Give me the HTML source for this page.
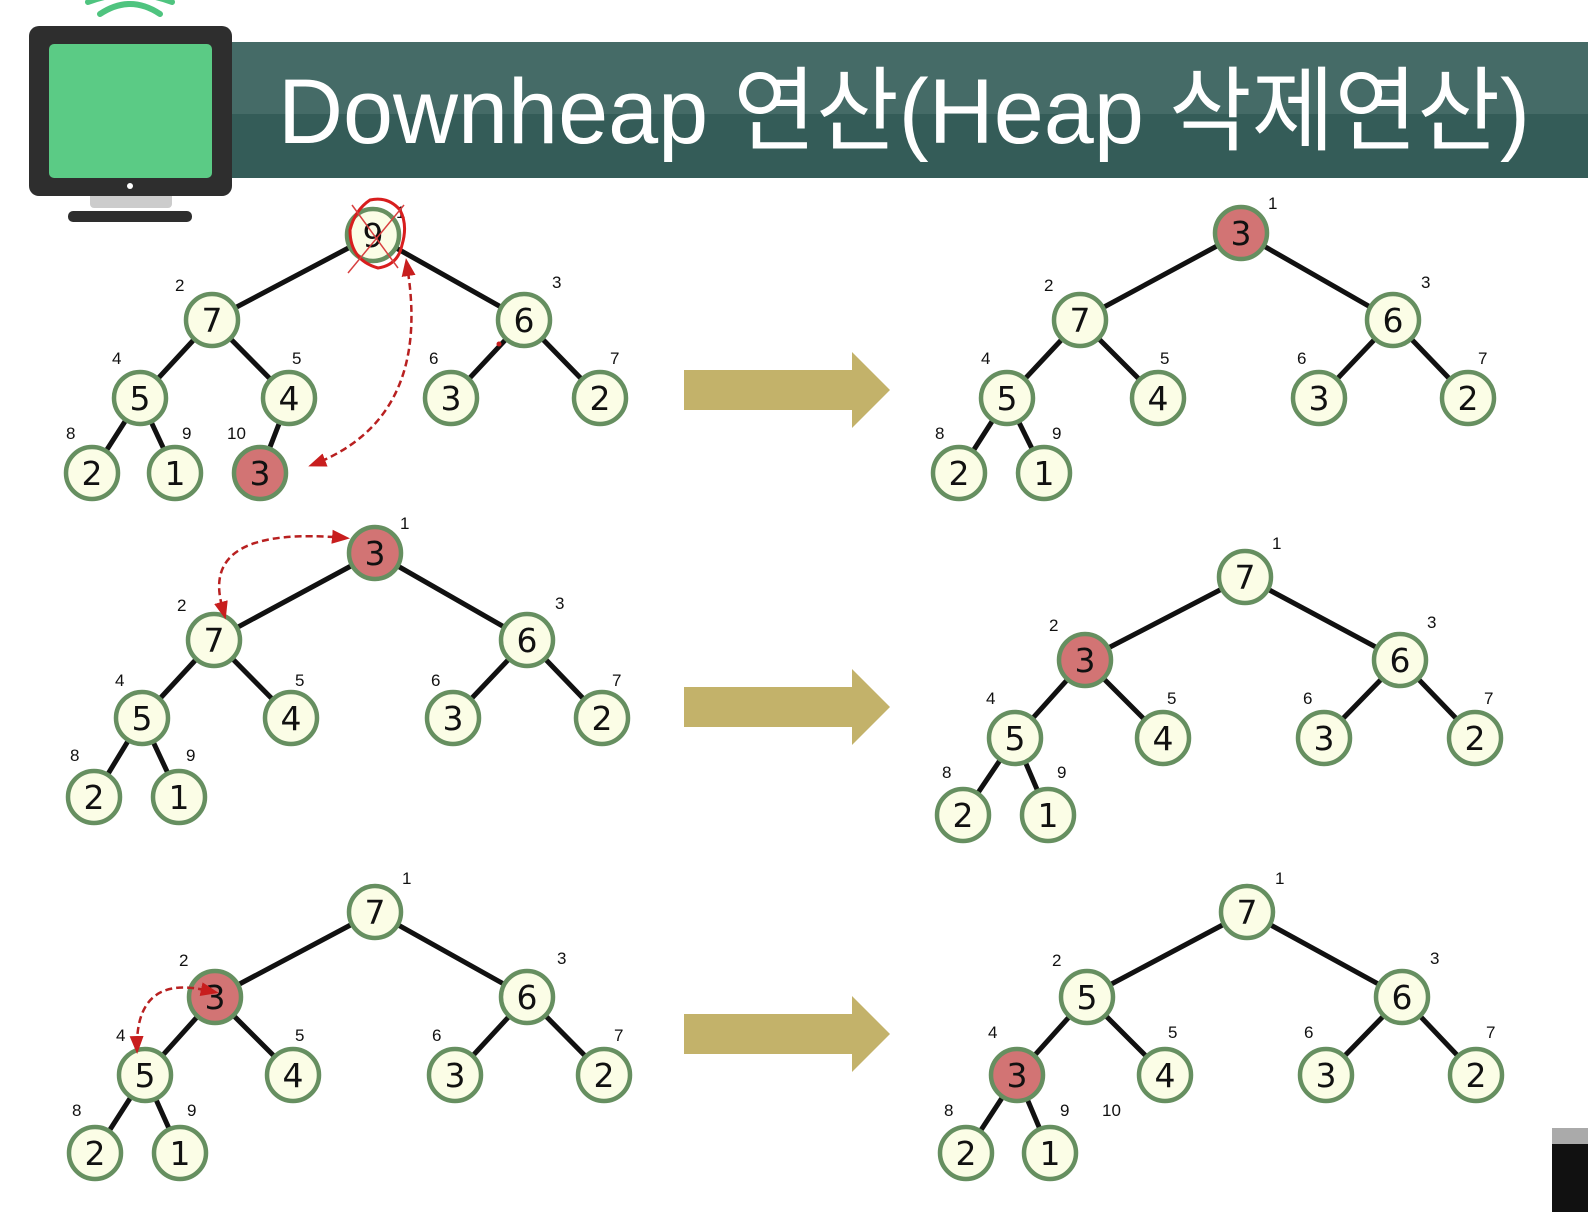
<!DOCTYPE html>
<html><head><meta charset="utf-8"><style>
html,body{margin:0;padding:0;background:#fff;}
svg{display:block}
.e{stroke:#111;stroke-width:5;}
.n circle{fill:#fbfde6;stroke:#668f60;stroke-width:4.5;}
.n circle.r{fill:#d27474;}
.n text{font-family:"DejaVu Sans","Liberation Sans",sans-serif;font-size:33px;text-anchor:middle;fill:#111;}
.l{font-family:"Liberation Sans",sans-serif;font-size:17px;fill:#111;}
.ar{fill:#c3b26a;}
.d{fill:none;stroke:#b82020;stroke-width:2.5;stroke-dasharray:7 4;}
</style></head><body>
<svg width="1588" height="1212" viewBox="0 0 1588 1212" xmlns="http://www.w3.org/2000/svg">
<defs>
<marker id="ah" markerWidth="10" markerHeight="10" refX="8" refY="5" orient="auto" markerUnits="userSpaceOnUse" viewBox="0 0 10 10"><path d="M0,0 L10,5 L0,10 z" fill="#c81e1e"/></marker>
<marker id="ahb" markerWidth="18" markerHeight="18" refX="14" refY="9" orient="auto" markerUnits="userSpaceOnUse" viewBox="0 0 18 18"><path d="M0,2 L18,9 L0,16 z" fill="#c81e1e"/></marker>
<marker id="ahs" markerWidth="18" markerHeight="18" refX="4" refY="9" orient="auto-start-reverse" markerUnits="userSpaceOnUse" viewBox="0 0 18 18"><path d="M0,2 L18,9 L0,16 z" fill="#c81e1e"/></marker>
</defs>
<!-- header -->
<rect x="230" y="42" width="1358" height="136" fill="#345c58"/>
<rect x="230" y="42" width="1358" height="72" fill="#456b67"/>
<text x="278" y="143" font-family="'Liberation Sans','Noto Sans CJK KR',sans-serif" font-size="92" fill="#fff" textLength="1252" lengthAdjust="spacingAndGlyphs">Downheap 연산(Heap 삭제연산)</text>
<!-- monitor -->
<path d="M100,14 Q130,-6 160,14" fill="none" stroke="#4fc47f" stroke-width="6" stroke-linecap="round"/>
<path d="M88,2 Q130,-14 172,2" fill="none" stroke="#4fc47f" stroke-width="6" stroke-linecap="round"/>
<rect x="90" y="190" width="82" height="18" fill="#ccc" rx="4"/>
<rect x="29" y="26" width="203" height="170" rx="10" fill="#2e2e2e"/>
<rect x="49" y="44" width="163" height="134" rx="5" fill="#5bcb85"/>
<circle cx="130" cy="186" r="3" fill="#fff"/>
<rect x="68" y="211" width="124" height="11" rx="5" fill="#2e2e2e"/>
<rect x="1552" y="1128" width="36" height="84" fill="#111"/>
<rect x="1552" y="1128" width="36" height="16" fill="#aaa"/>

<!-- big arrows -->
<path class="ar" d="M684,370 H852 V352 L890,390 L852,428 V410 H684 Z"/>
<path class="ar" d="M684,687 H852 V669 L890,707 L852,745 V727 H684 Z"/>
<path class="ar" d="M684,1014 H852 V996 L890,1034 L852,1072 V1054 H684 Z"/>

<!-- Tree 1 -->
<g class="e">
<line x1="373" y1="235" x2="212" y2="320"/><line x1="373" y1="235" x2="524" y2="320"/>
<line x1="212" y1="320" x2="140" y2="398"/><line x1="212" y1="320" x2="289" y2="398"/>
<line x1="524" y1="320" x2="451" y2="398"/><line x1="524" y1="320" x2="600" y2="398"/>
<line x1="140" y1="398" x2="92" y2="473"/><line x1="140" y1="398" x2="175" y2="473"/>
<line x1="289" y1="398" x2="260" y2="473"/>
</g>
<g class="n">
<circle cx="373" cy="235" r="26"/><text x="373" y="247">9</text>
<circle cx="212" cy="320" r="26"/><text x="212" y="332">7</text>
<circle cx="524" cy="320" r="26"/><text x="524" y="332">6</text>
<circle cx="140" cy="398" r="26"/><text x="140" y="410">5</text>
<circle cx="289" cy="398" r="26"/><text x="289" y="410">4</text>
<circle cx="451" cy="398" r="26"/><text x="451" y="410">3</text>
<circle cx="600" cy="398" r="26"/><text x="600" y="410">2</text>
<circle cx="92" cy="473" r="26"/><text x="92" y="485">2</text>
<circle cx="175" cy="473" r="26"/><text x="175" y="485">1</text>
<circle class="r" cx="260" cy="473" r="26"/><text x="260" y="485">3</text>
</g>
<g class="l">
<text x="396" y="218">1</text><text x="175" y="291">2</text><text x="552" y="288">3</text>
<text x="112" y="364">4</text><text x="292" y="364">5</text><text x="429" y="364">6</text><text x="610" y="364">7</text>
<text x="66" y="439">8</text><text x="182" y="439">9</text><text x="227" y="439">10</text>
</g>
<path d="M370,200 Q355,210 350,230 Q350,260 378,268 Q398,265 402,245 Q408,225 400,210 Q388,196 370,200 Z" fill="none" stroke="#d81e1e" stroke-width="3"/>
<line x1="352" y1="205" x2="398" y2="268" stroke="#d84040" stroke-width="1.5"/>
<line x1="404" y1="205" x2="348" y2="273" stroke="#d84040" stroke-width="1.5"/>
<path class="d" d="M408,272 Q430,420 312,465" marker-start="url(#ahs)" marker-end="url(#ahb)"/>
<circle cx="499" cy="344" r="2.5" fill="#c81e1e"/>

<!-- Tree 2 -->
<g class="e">
<line x1="1241" y1="233" x2="1080" y2="320"/><line x1="1241" y1="233" x2="1393" y2="320"/>
<line x1="1080" y1="320" x2="1007" y2="398"/><line x1="1080" y1="320" x2="1158" y2="398"/>
<line x1="1393" y1="320" x2="1319" y2="398"/><line x1="1393" y1="320" x2="1468" y2="398"/>
<line x1="1007" y1="398" x2="959" y2="473"/><line x1="1007" y1="398" x2="1044" y2="473"/>
</g>
<g class="n">
<circle class="r" cx="1241" cy="233" r="26"/><text x="1241" y="245">3</text>
<circle cx="1080" cy="320" r="26"/><text x="1080" y="332">7</text>
<circle cx="1393" cy="320" r="26"/><text x="1393" y="332">6</text>
<circle cx="1007" cy="398" r="26"/><text x="1007" y="410">5</text>
<circle cx="1158" cy="398" r="26"/><text x="1158" y="410">4</text>
<circle cx="1319" cy="398" r="26"/><text x="1319" y="410">3</text>
<circle cx="1468" cy="398" r="26"/><text x="1468" y="410">2</text>
<circle cx="959" cy="473" r="26"/><text x="959" y="485">2</text>
<circle cx="1044" cy="473" r="26"/><text x="1044" y="485">1</text>
</g>
<g class="l">
<text x="1268" y="209">1</text><text x="1044" y="291">2</text><text x="1421" y="288">3</text>
<text x="981" y="364">4</text><text x="1160" y="364">5</text><text x="1297" y="364">6</text><text x="1478" y="364">7</text>
<text x="935" y="439">8</text><text x="1052" y="439">9</text>
</g>

<!-- Tree 3 -->
<g class="e">
<line x1="375" y1="553" x2="214" y2="640"/><line x1="375" y1="553" x2="527" y2="640"/>
<line x1="214" y1="640" x2="142" y2="718"/><line x1="214" y1="640" x2="291" y2="718"/>
<line x1="527" y1="640" x2="453" y2="718"/><line x1="527" y1="640" x2="602" y2="718"/>
<line x1="142" y1="718" x2="94" y2="797"/><line x1="142" y1="718" x2="179" y2="797"/>
</g>
<g class="n">
<circle class="r" cx="375" cy="553" r="26"/><text x="375" y="565">3</text>
<circle cx="214" cy="640" r="26"/><text x="214" y="652">7</text>
<circle cx="527" cy="640" r="26"/><text x="527" y="652">6</text>
<circle cx="142" cy="718" r="26"/><text x="142" y="730">5</text>
<circle cx="291" cy="718" r="26"/><text x="291" y="730">4</text>
<circle cx="453" cy="718" r="26"/><text x="453" y="730">3</text>
<circle cx="602" cy="718" r="26"/><text x="602" y="730">2</text>
<circle cx="94" cy="797" r="26"/><text x="94" y="809">2</text>
<circle cx="179" cy="797" r="26"/><text x="179" y="809">1</text>
</g>
<g class="l">
<text x="400" y="529">1</text><text x="177" y="611">2</text><text x="555" y="609">3</text>
<text x="115" y="686">4</text><text x="295" y="686">5</text><text x="431" y="686">6</text><text x="612" y="686">7</text>
<text x="70" y="761">8</text><text x="186" y="761">9</text>
</g>
<path class="d" d="M222,606 Q200,525 346,538" marker-start="url(#ahs)" marker-end="url(#ahb)"/>

<!-- Tree 4 -->
<g class="e">
<line x1="1245" y1="577" x2="1085" y2="660"/><line x1="1245" y1="577" x2="1400" y2="660"/>
<line x1="1085" y1="660" x2="1015" y2="738"/><line x1="1085" y1="660" x2="1163" y2="738"/>
<line x1="1400" y1="660" x2="1324" y2="738"/><line x1="1400" y1="660" x2="1475" y2="738"/>
<line x1="1015" y1="738" x2="963" y2="815"/><line x1="1015" y1="738" x2="1048" y2="815"/>
</g>
<g class="n">
<circle cx="1245" cy="577" r="26"/><text x="1245" y="589">7</text>
<circle class="r" cx="1085" cy="660" r="26"/><text x="1085" y="672">3</text>
<circle cx="1400" cy="660" r="26"/><text x="1400" y="672">6</text>
<circle cx="1015" cy="738" r="26"/><text x="1015" y="750">5</text>
<circle cx="1163" cy="738" r="26"/><text x="1163" y="750">4</text>
<circle cx="1324" cy="738" r="26"/><text x="1324" y="750">3</text>
<circle cx="1475" cy="738" r="26"/><text x="1475" y="750">2</text>
<circle cx="963" cy="815" r="26"/><text x="963" y="827">2</text>
<circle cx="1048" cy="815" r="26"/><text x="1048" y="827">1</text>
</g>
<g class="l">
<text x="1272" y="549">1</text><text x="1049" y="631">2</text><text x="1427" y="628">3</text>
<text x="986" y="704">4</text><text x="1167" y="704">5</text><text x="1303" y="704">6</text><text x="1484" y="704">7</text>
<text x="942" y="778">8</text><text x="1057" y="778">9</text>
</g>

<!-- Tree 5 -->
<g class="e">
<line x1="375" y1="912" x2="215" y2="997"/><line x1="375" y1="912" x2="527" y2="997"/>
<line x1="215" y1="997" x2="145" y2="1075"/><line x1="215" y1="997" x2="293" y2="1075"/>
<line x1="527" y1="997" x2="455" y2="1075"/><line x1="527" y1="997" x2="604" y2="1075"/>
<line x1="145" y1="1075" x2="95" y2="1153"/><line x1="145" y1="1075" x2="180" y2="1153"/>
</g>
<g class="n">
<circle cx="375" cy="912" r="26"/><text x="375" y="924">7</text>
<circle class="r" cx="215" cy="997" r="26"/><text x="215" y="1009">3</text>
<circle cx="527" cy="997" r="26"/><text x="527" y="1009">6</text>
<circle cx="145" cy="1075" r="26"/><text x="145" y="1087">5</text>
<circle cx="293" cy="1075" r="26"/><text x="293" y="1087">4</text>
<circle cx="455" cy="1075" r="26"/><text x="455" y="1087">3</text>
<circle cx="604" cy="1075" r="26"/><text x="604" y="1087">2</text>
<circle cx="95" cy="1153" r="26"/><text x="95" y="1165">2</text>
<circle cx="180" cy="1153" r="26"/><text x="180" y="1165">1</text>
</g>
<g class="l">
<text x="402" y="884">1</text><text x="179" y="966">2</text><text x="557" y="964">3</text>
<text x="116" y="1041">4</text><text x="295" y="1041">5</text><text x="432" y="1041">6</text><text x="614" y="1041">7</text>
<text x="72" y="1116">8</text><text x="187" y="1116">9</text>
</g>
<path class="d" d="M205,990 Q135,975 137,1050" marker-start="url(#ahs)" marker-end="url(#ahb)"/>

<!-- Tree 6 -->
<g class="e">
<line x1="1247" y1="912" x2="1087" y2="997"/><line x1="1247" y1="912" x2="1402" y2="997"/>
<line x1="1087" y1="997" x2="1017" y2="1075"/><line x1="1087" y1="997" x2="1165" y2="1075"/>
<line x1="1402" y1="997" x2="1326" y2="1075"/><line x1="1402" y1="997" x2="1476" y2="1075"/>
<line x1="1017" y1="1075" x2="966" y2="1153"/><line x1="1017" y1="1075" x2="1050" y2="1153"/>
</g>
<g class="n">
<circle cx="1247" cy="912" r="26"/><text x="1247" y="924">7</text>
<circle cx="1087" cy="997" r="26"/><text x="1087" y="1009">5</text>
<circle cx="1402" cy="997" r="26"/><text x="1402" y="1009">6</text>
<circle class="r" cx="1017" cy="1075" r="26"/><text x="1017" y="1087">3</text>
<circle cx="1165" cy="1075" r="26"/><text x="1165" y="1087">4</text>
<circle cx="1326" cy="1075" r="26"/><text x="1326" y="1087">3</text>
<circle cx="1476" cy="1075" r="26"/><text x="1476" y="1087">2</text>
<circle cx="966" cy="1153" r="26"/><text x="966" y="1165">2</text>
<circle cx="1050" cy="1153" r="26"/><text x="1050" y="1165">1</text>
</g>
<g class="l">
<text x="1275" y="884">1</text><text x="1052" y="966">2</text><text x="1430" y="964">3</text>
<text x="988" y="1038">4</text><text x="1168" y="1038">5</text><text x="1304" y="1038">6</text><text x="1486" y="1038">7</text>
<text x="944" y="1116">8</text><text x="1060" y="1116">9</text><text x="1102" y="1116">10</text>
</g>
</svg>
</body></html>
